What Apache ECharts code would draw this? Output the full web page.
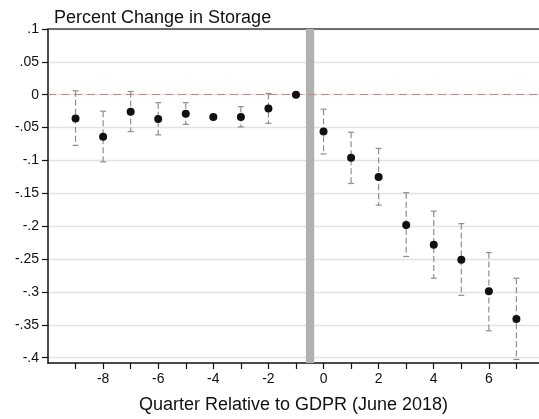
<!DOCTYPE html>
<html>
<head>
<meta charset="utf-8">
<script src="https://cdn.jsdelivr.net/npm/echarts@6/dist/echarts.min.js"></script>
<style>
  html, body { margin: 0; padding: 0; background: #fff; }
  #chart { width: 539px; height: 419px; }
</style>
</head>
<body>
<div id="chart"></div>
<script>
// quarters relative to GDPR, point estimates and 95% CI bounds
const quarters = [-9, -8, -7, -6, -5, -4, -3, -2, -1, 0, 1, 2, 3, 4, 5, 6, 7];
const estimate = [-0.036, -0.064, -0.026, -0.037, -0.029, -0.034, -0.034, -0.021, 0,
  -0.056, -0.096, -0.125, -0.198, -0.228, -0.251, -0.299, -0.341];
const ciLow = [-0.077, -0.102, -0.056, -0.061, -0.045, -0.037, -0.049, -0.0435, null,
  -0.090, -0.135, -0.168, -0.246, -0.279, -0.305, -0.359, -0.4025];
const ciHigh = [0.006, -0.025, 0.005, -0.012, -0.012, -0.031, -0.018, 0.002, null,
  -0.022, -0.057, -0.0815, -0.149, -0.177, -0.196, -0.240, -0.279];

const yTicks = [0.1, 0.05, 0, -0.05, -0.1, -0.15, -0.2, -0.25, -0.3, -0.35, -0.4];
const xTicks = [-9, -8, -7, -6, -5, -4, -3, -2, -1, 0, 1, 2, 3, 4, 5, 6, 7];
const xLabels = [-8, -6, -4, -2, 0, 2, 4, 6];

const font = 'Liberation Sans, Arial, Helvetica, sans-serif';

// stata style: .05, -.1
function stataNum(v) {
  if (v === 0) return '0';
  const s = String(Math.abs(v)).replace(/^0/, '');
  return (v < 0 ? '-' : '') + s;
}

const chart = echarts.init(document.getElementById('chart'));

const ciData = quarters.map((q, i) => [q, ciLow[i], ciHigh[i]]).filter(d => d[1] != null);

chart.setOption({
  animation: false,
  title: {
    text: 'Percent Change in Storage',
    left: 49,
    top: 4,
    textStyle: { fontFamily: font, fontSize: 18, fontWeight: 'normal', color: '#111' }
  },
  grid: { left: 48, right: 0, top: 29, bottom: 47 },
  xAxis: [{
    type: 'value',
    min: -10,
    max: 7.82,
    name: 'Quarter Relative to GDPR (June 2018)',
    nameLocation: 'middle',
    nameGap: 33,
    nameTextStyle: { fontFamily: font, fontSize: 18, color: '#111' },
    axisLine: { onZero: false, lineStyle: { color: '#111', width: 1.5 } },
    axisTick: { customValues: xTicks, length: 6, lineStyle: { color: '#111', width: 1.2 } },
    axisLabel: { customValues: xLabels, fontFamily: font, fontSize: 14, color: '#111', margin: 9 },
    splitLine: { show: false }
  }, {
    type: 'value',
    position: 'top',
    min: -10,
    max: 7.82,
    axisLine: { show: true, onZero: false, lineStyle: { color: '#444', width: 1.5 } },
    axisTick: { show: false },
    axisLabel: { show: false },
    splitLine: { show: false }
  }],
  yAxis: {
    type: 'value',
    min: -0.408,
    max: 0.1,
    axisLine: { show: true, onZero: false, lineStyle: { color: '#111', width: 1.5 } },
    axisTick: { show: true, customValues: yTicks, length: 6, lineStyle: { color: '#111', width: 1.2 } },
    axisLabel: {
      customValues: yTicks,
      fontFamily: font, fontSize: 14, color: '#111', margin: 9,
      formatter: stataNum
    },
    splitLine: { show: true, lineStyle: { color: '#e2e2e2', width: 1.3 } }
  },
  series: [{
    type: 'custom',
    name: 'CI',
    data: ciData,
    z: 3,
    renderItem: function (params, api) {
      const x = api.value(0);
      const top = api.coord([x, api.value(2)]);
      const bot = api.coord([x, api.value(1)]);
      const cap = 3;
      const style = { stroke: '#8f8f8f', lineWidth: 1.2 };
      return {
        type: 'group',
        children: [
          { type: 'line', shape: { x1: top[0], y1: top[1], x2: bot[0], y2: bot[1] },
            style: Object.assign({ lineDash: [6, 3] }, style) },
          { type: 'line', shape: { x1: top[0] - cap, y1: top[1], x2: top[0] + cap, y2: top[1] }, style: style },
          { type: 'line', shape: { x1: bot[0] - cap, y1: bot[1], x2: bot[0] + cap, y2: bot[1] }, style: style }
        ]
      };
    }
  }, {
    type: 'scatter',
    name: 'Estimate',
    data: quarters.map((q, i) => [q, estimate[i]]),
    symbolSize: 8,
    z: 5,
    itemStyle: { color: '#111', opacity: 1 },
    markLine: {
      silent: true,
      symbol: 'none',
      label: { show: false },
      lineStyle: { color: '#c98585', type: [8, 5], width: 1.2 },
      data: [{ yAxis: 0 }]
    },
    markArea: {
      silent: true,
      itemStyle: { color: '#b1b1b1', opacity: 1 },
      data: [[{ xAxis: -0.64 }, { xAxis: -0.34 }]]
    }
  }]
});
</script>
</body>
</html>
